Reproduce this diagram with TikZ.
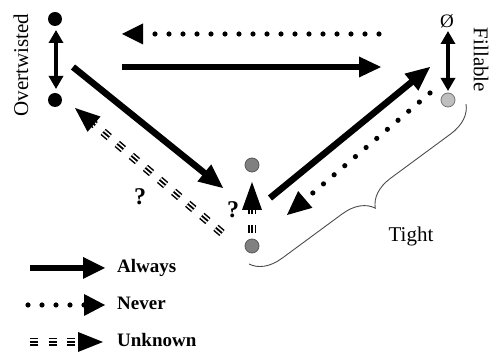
\documentclass[tikz,border=0pt]{standalone}
\usepackage{fontspec}
\setmainfont{Liberation Serif}
\usetikzlibrary{arrows.meta,calc,decorations.pathreplacing}
% filled arrow head: tip, toward-from point, length, half width
\newcommand\arrhead[4]{%
  \path ($(#1)!#3!(#2)$) coordinate (hb);
  \fill (#1) -- ($(hb)!#4!90:(#1)$) -- ($(hb)!#4!-90:(#1)$) -- cycle;}
% connector: style, from, to, line stop distance, head length, head half width
\newcommand\conn[6]{%
  \draw[#1] (#2) -- ($(#3)!#4!(#2)$);
  \arrhead{#3}{#2}{#5}{#6}}
\begin{document}
\begin{tikzpicture}[x=1pt,y=-1pt,
  bdot/.style={circle,fill=black,minimum size=14pt,inner sep=0pt},
  gdot/.style={circle,fill=black!50,draw=black!65,line width=0.8pt,minimum size=14pt,inner sep=0pt},
  ldot/.style={circle,fill=black!25,draw=black!55,line width=0.8pt,minimum size=14pt,inner sep=0pt},
  dbl/.style={line width=4pt,{Triangle[length=13pt,width=14pt]}-{Triangle[length=13pt,width=14pt]}},
  always/.style={line width=6.5pt},
  never/.style={line width=5.2pt,line cap=round,dash pattern=on 0pt off 14pt},
  unk/.style={line width=8pt,dash pattern=on 8pt off 10.5pt,
    postaction={draw=white,line width=5pt,dash pattern=on 8pt off 10.5pt},
    postaction={draw=black,line width=1.8pt,dash pattern=on 8pt off 10.5pt}},
  lbl/.style={font=\fontsize{21}{25}\selectfont,inner sep=0pt},
  leg/.style={font=\fontsize{19}{23}\selectfont\bfseries,inner sep=0pt,anchor=base west},
  qm/.style={font=\fontsize{24}{28}\selectfont\bfseries,inner sep=0pt}
]
\useasboundingbox (0,0) rectangle (491,352);

% nodes
\node[bdot] (ot1) at (55,19) {};
\node[bdot] (ot2) at (55,100) {};
\node[lbl,rotate=90] (ovt) at (21,65) {Overtwisted};
\node[font=\fontsize{19}{23}\selectfont,inner sep=0pt] (empty) at (447,21) {Ø};
\node[ldot] (fl) at (448,100) {};
\node[lbl,rotate=-90] (fil) at (481,60) {Fillable};
\node[gdot] (t1) at (252,165) {};
\node[gdot] (t2) at (252,246) {};
\node[lbl,anchor=base] (tight) at (411,242) {Tight};
\node[qm] (q1) at (140,197) {?};
\node[qm] (q2) at (233,210) {?};

% double arrows
\coordinate (d1a) at (56,30);  \coordinate (d1b) at (56,89);
\coordinate (d2a) at (448,31); \coordinate (d2b) at (448,91);
\draw[dbl] (d1a) -- (d1b);
\draw[dbl] (d2a) -- (d2b);

% top arrows
\coordinate (nt1) at (379,34); \coordinate (nt2) at (122,34);
\conn{never}{nt1}{nt2}{26pt}{21pt}{10.5pt}
\coordinate (at1) at (122,67); \coordinate (at2) at (381,67);
\conn{always}{at1}{at2}{20pt}{22pt}{10.5pt}

% left diagonal
\coordinate (ad1) at (73,67); \coordinate (ad2) at (223,188);
\conn{always}{ad1}{ad2}{20pt}{24pt}{11pt}
\coordinate (ud1) at (222,233); \coordinate (ud2) at (75,108);
\conn{unk}{ud1}{ud2}{24pt}{25pt}{10pt}

% vertical unknown
\coordinate (uv1) at (252,233); \coordinate (uv2) at (252,182);
\conn{unk}{uv1}{uv2}{24pt}{28pt}{10pt}

% right diagonal
\coordinate (ar1) at (270,198); \coordinate (ar2) at (430,67);
\conn{always}{ar1}{ar2}{20pt}{24pt}{11pt}
\coordinate (nr1) at (430,93); \coordinate (nr2) at (287,215);
\conn{never}{nr1}{nr2}{26pt}{24pt}{11pt}

% brace
\coordinate (b1) at (466,104); \coordinate (b2) at (249,264);
\draw[black!70,line width=0.9pt,decorate,decoration={brace,amplitude=30pt}] (b1) -- (b2);

% legend
\coordinate (la1) at (30,268); \coordinate (la2) at (105,268);
\conn{always}{la1}{la2}{20pt}{22pt}{11pt}
\node[leg] (always) at (117,273) {Always};
\coordinate (ln1) at (28,305); \coordinate (ln2) at (105,305);
\conn{never}{ln1}{ln2}{20pt}{21pt}{11pt}
\node[leg] (never) at (117,310) {Never};
\coordinate (lu1) at (30,342); \coordinate (lu2) at (103,342);
\conn{unk}{lu1}{lu2}{24pt}{25pt}{10pt}
\node[leg] (unknown) at (117,347) {Unknown};
\end{tikzpicture}
\end{document}
